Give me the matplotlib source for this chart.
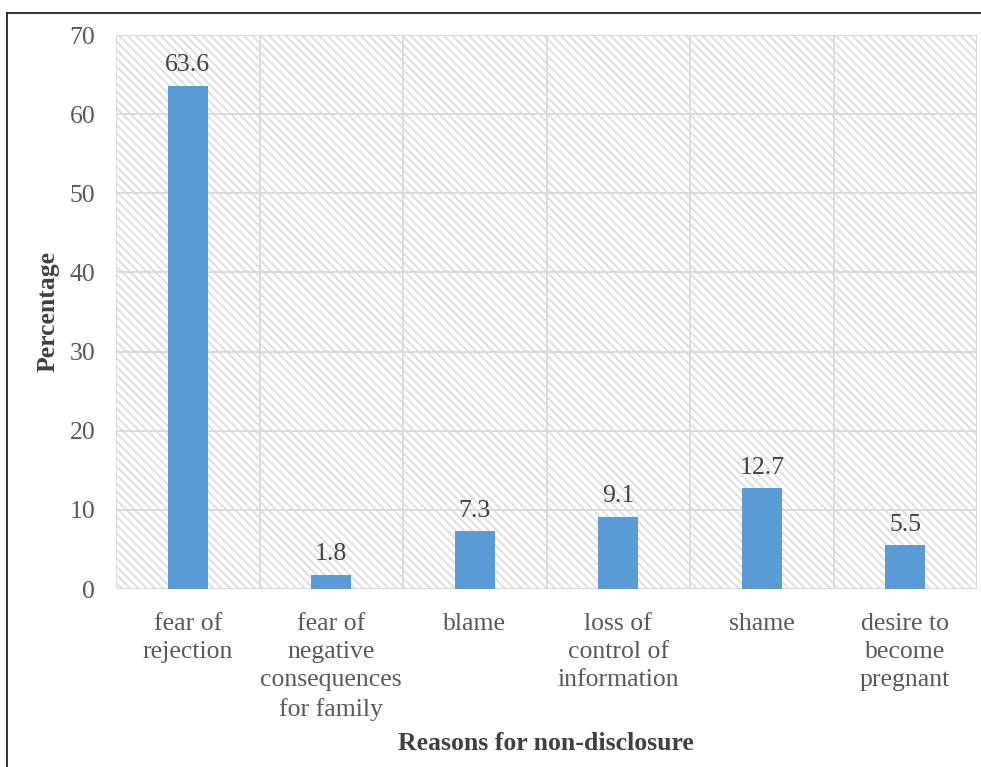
import matplotlib
matplotlib.use("Agg")
import matplotlib.pyplot as plt
from matplotlib.patches import Rectangle
from matplotlib.lines import Line2D
import numpy as np

categories = ["fear of\nrejection", "fear of\nnegative\nconsequences\nfor family", "blame",
              "loss of\ncontrol of\ninformation", "shame", "desire to\nbecome\npregnant"]
values = [63.6, 1.8, 7.3, 9.1, 12.7, 5.5]
yticks = [0, 10, 20, 30, 40, 50, 60, 70]

plt.rcParams['font.family'] = ['Liberation Serif', 'DejaVu Serif']
plt.rcParams['hatch.linewidth'] = 1.5
plt.rcParams['hatch.color'] = '#e0e0e0'

FS = 18.5

fig = plt.figure(figsize=(9.81, 7.67), dpi=100)
ax = fig.add_axes([116/981, 1-589/767, (977-116)/981, (589-35)/767])

x = np.arange(len(categories))
ax.set_xlim(-0.5, len(categories)-0.5)
ax.set_ylim(0, 70)

# hatched background
bg = Rectangle((0, 0), 1, 1, transform=ax.transAxes, facecolor='white',
               edgecolor='#e0e0e0', hatch='\\\\\\\\', linewidth=0, zorder=0)
ax.add_patch(bg)

# grid
for yv in yticks:
    ax.axhline(yv, color='#d9d9d9', lw=1.3, zorder=1)
for b in np.arange(-0.5, len(categories), 1.0):
    ax.axvline(b, color='#d9d9d9', lw=1.3, zorder=1)

bars = ax.bar(x, values, width=0.28, color='#5B9BD5', zorder=3)
for xi, v in zip(x, values):
    ax.annotate(f"{v}", (xi, v), xytext=(0, 7), textcoords='offset points',
                ha='center', va='bottom', fontsize=FS, color='#404040')

ax.set_yticks(yticks)
ax.set_xticks(x)
ax.set_xticklabels(categories, fontsize=FS, color='#595959', linespacing=1.37)
ax.tick_params(axis='y', labelsize=FS, labelcolor='#595959', length=0, pad=15)
ax.tick_params(axis='x', length=0, pad=17)
for s in ax.spines.values():
    s.set_visible(False)

ax.set_ylabel("Percentage", fontsize=FS, fontweight='bold', color='#404040')
ax.yaxis.set_label_coords((60-116)/861, 0.5)
fig.text(546/981, 1-744/767, "Reasons for non-disclosure", ha='center', va='center',
         fontsize=FS, fontweight='bold', color='#404040')

# outer border lines (top and left)
fig.add_artist(Line2D([7/981, 1], [1-13/767, 1-13/767], transform=fig.transFigure, color='#222222', lw=1.3))
fig.add_artist(Line2D([7/981, 7/981], [0, 1-13/767], transform=fig.transFigure, color='#222222', lw=1.3))

fig.savefig("out.png", dpi=100)
